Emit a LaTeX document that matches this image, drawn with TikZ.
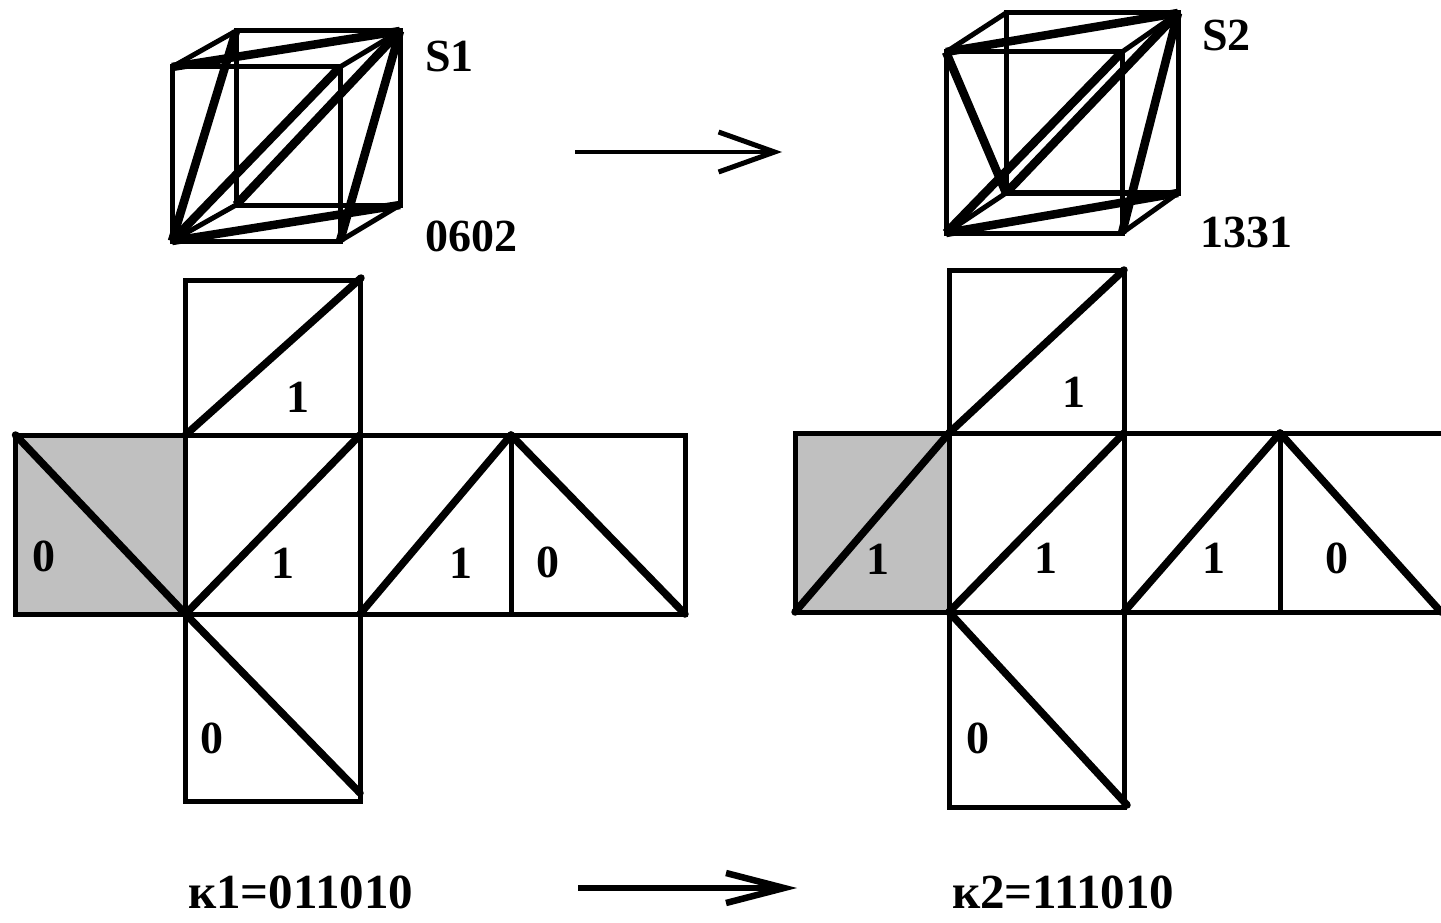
\documentclass[tikz,border=0pt]{standalone}
\usepackage{fontspec}
\setmainfont{Liberation Serif}
\usepackage{tikz}
\usetikzlibrary{arrows.meta}
\definecolor{netgray}{HTML}{C0C0C0}
\tikzset{
  x=1pt, y=-1pt,
  edge/.style={line width=5pt, line join=miter},
  thickdiag/.style={line width=7.5pt, line cap=round},
  cubeedge/.style={line width=5pt, line join=miter},
  cubediag/.style={line width=8.5pt, line cap=butt},
  bigarrow/.style={line width=4.5pt, -{Straight Barb[length=56pt, width=40pt, line width=5pt]}},
  lowarrow/.style={line width=6pt, -{Straight Barb[length=58pt, width=30pt, line width=6.5pt]}},
  label/.style={font=\fontsize{46}{46}\selectfont\bfseries, inner sep=0pt},
  netlabel/.style={font=\fontsize{46}{46}\selectfont\bfseries, inner sep=0pt},
  codelabel/.style={font=\fontsize{49}{49}\selectfont\bfseries, inner sep=0pt}
}

\begin{document}
\begin{tikzpicture}
\useasboundingbox (0,0) rectangle (1441,923);

% ── Left cube ────────────────────────────────────────────────────────────────
\coordinate (fa) at (172,67);
\coordinate (fb) at (340,67);
\coordinate (fc) at (340,241);
\coordinate (fd) at (172,241);
\coordinate (ba) at (236,31);
\coordinate (bb) at (400,31);
\coordinate (bc) at (400,205);
\coordinate (bd) at (236,205);
\draw[cubeedge] (fa) -- (fb) -- (fc) -- (fd) -- cycle;
\draw[cubeedge] (ba) -- (bb) -- (bc) -- (bd) -- cycle;
\draw[cubeedge] (fa) -- (ba) (fb) -- (bb) (fc) -- (bc) (fd) -- (bd);
\draw[cubediag] (fd) -- (ba);
\draw[cubediag] (fa) -- (bb);
\draw[cubediag] (fd) -- (fb);
\draw[cubediag] (bd) -- (bb);
\draw[cubediag] (fc) -- (bb);
\draw[cubediag] (fd) -- (bc);
\node[label, anchor=west] (sa) at (425,56) {S1};
\node[label, anchor=west] (ca) at (425,236) {0602};

% ── Right cube ───────────────────────────────────────────────────────────────
\coordinate (ga) at (946,52);
\coordinate (gb) at (1122,52);
\coordinate (gc) at (1122,233);
\coordinate (gd) at (946,233);
\coordinate (ha) at (1006,13);
\coordinate (hb) at (1178,13);
\coordinate (hc) at (1178,193);
\coordinate (hd) at (1006,193);
\draw[cubeedge] (ga) -- (gb) -- (gc) -- (gd) -- cycle;
\draw[cubeedge] (ha) -- (hb) -- (hc) -- (hd) -- cycle;
\draw[cubeedge] (ga) -- (ha) (gb) -- (hb) (gc) -- (hc) (gd) -- (hd);
\draw[cubediag] (ga) -- (hd);
\draw[cubediag] (ga) -- (hb);
\draw[cubediag] (gd) -- (gb);
\draw[cubediag] (hd) -- (hb);
\draw[cubediag] (gc) -- (hb);
\draw[cubediag] (gd) -- (hc);
\node[label, anchor=west] (sb) at (1202,35) {S2};
\node[label, anchor=west] (cb) at (1200,232) {1331};

% ── Arrows between the two columns ───────────────────────────────────────────
\coordinate (ta) at (575,152);
\coordinate (tb) at (782,152);
\draw[bigarrow] (ta) -- (tb);
\coordinate (ua) at (578,888);
\coordinate (ub) at (797,888);
\draw[lowarrow] (ua) -- (ub);

% ── Left net ─────────────────────────────────────────────────────────────────
\coordinate (n1) at (15.5,435);
\coordinate (n2) at (185.5,435);
\coordinate (n3) at (360,435);
\coordinate (n4) at (511,435);
\coordinate (n5) at (685,435);
\coordinate (m1) at (15.5,614);
\coordinate (m2) at (185.5,614);
\coordinate (m3) at (360,614);
\coordinate (m4) at (511,614);
\coordinate (m5) at (685,614);
\coordinate (t2) at (185.5,280.5);
\coordinate (t3) at (360,280.5);
\coordinate (te) at (361,278);
\coordinate (d2) at (185.5,801);
\coordinate (d3) at (360,801);
\coordinate (de) at (360,793);
\fill[netgray] (n1) rectangle (m2);
\draw[edge] (n1) rectangle (m5);
\draw[edge] (t2) rectangle (n3);
\draw[edge] (m2) rectangle (d3);
\draw[edge] (n2) -- (m2) (n3) -- (m3) (n4) -- (m4);
\draw[thickdiag] (n2) -- (te);
\draw[thickdiag] (n1) -- (m2);
\draw[thickdiag] (m2) -- (n3);
\draw[thickdiag] (m3) -- (n4);
\draw[thickdiag] (n4) -- (m5);
\draw[thickdiag] (m2) -- (de);
\node[netlabel] (la) at (298,397) {1};
\node[netlabel] (lb) at (44,556) {0};
\node[netlabel] (lc) at (283,563) {1};
\node[netlabel] (ld) at (461,563) {1};
\node[netlabel] (le) at (548,562) {0};
\node[netlabel] (lf) at (212,738) {0};

% ── Right net ────────────────────────────────────────────────────────────────
\coordinate (p1) at (795,433);
\coordinate (p2) at (949,433);
\coordinate (p3) at (1124,433);
\coordinate (p4) at (1280,433);
\coordinate (p5) at (1441,433);
\coordinate (q1) at (795,612);
\coordinate (q2) at (949,612);
\coordinate (q3) at (1124,612);
\coordinate (q4) at (1280,612);
\coordinate (q5) at (1441,612);
\coordinate (r2) at (949,270);
\coordinate (r3) at (1124,270);
\coordinate (s2) at (949,807);
\coordinate (s3) at (1124,807);
\coordinate (se) at (1127,805);
\fill[netgray] (p1) rectangle (q2);
\draw[edge] (q5) -- (q1) -- (p1) -- (p5);
\draw[edge] (r2) rectangle (p3);
\draw[edge] (q2) rectangle (s3);
\draw[edge] (p2) -- (q2) (p3) -- (q3) (p4) -- (q4);
\draw[gray!50, line width=1pt] (p5) -- (q5);
\draw[thickdiag] (p2) -- (r3);
\draw[thickdiag] (q1) -- (p2);
\draw[thickdiag] (q2) -- (p3);
\draw[thickdiag] (q3) -- (p4);
\draw[thickdiag] (p4) -- (q5);
\draw[thickdiag] (q2) -- (se);
\node[netlabel] (ra) at (1074,392) {1};
\node[netlabel] (rb) at (878,559) {1};
\node[netlabel] (rc) at (1046,558) {1};
\node[netlabel] (rd) at (1214,558) {1};
\node[netlabel] (re) at (1337,558) {0};
\node[netlabel] (rf) at (978,738) {0};

% ── Codes under the nets ─────────────────────────────────────────────────────
\node[codelabel, anchor=west] (ka) at (188,892) {к1=011010};
\node[codelabel, anchor=west] (kb) at (952,892) {к2=111010};

\end{tikzpicture}
\end{document}
